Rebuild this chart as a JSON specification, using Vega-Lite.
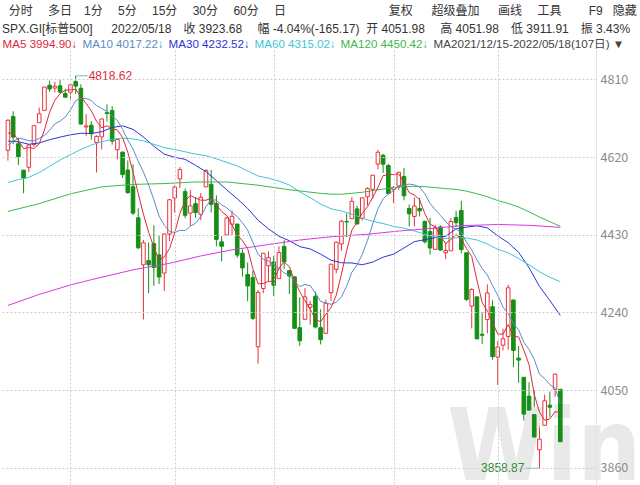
{
  "$schema": "https://vega.github.io/schema/vega-lite/v6.json",
  "width": 596,
  "height": 437,
  "padding": {"top": 5, "left": 0, "right": 0, "bottom": 0},
  "background": "white",
  "config": {
    "view": {"stroke": null},
    "font": "Liberation Sans, Noto Sans CJK SC",
    "legend": {
      "orient": "top",
      "direction": "horizontal",
      "title": null,
      "symbolSize": 0,
      "symbolStrokeWidth": 0,
      "symbolOpacity": 0,
      "labelOffset": -9,
      "columnPadding": 2,
      "labelFontSize": 11.6,
      "labelFont": "Liberation Sans, Noto Sans CJK SC",
      "labelLimit": 400,
      "padding": 0,
      "offset": -1
    }
  },
  "title": {
    "text": "\u200b\u00a0\u00a0分时\u3000\u00a0多日\u30001分\u3000\u00a05分\u3000\u00a015分\u3000\u00a030分\u3000\u00a060分\u3000\u00a0日\u3000\u3000\u3000\u3000\u3000\u3000\u3000\u3000\u00a0\u00a0复权\u3000\u00a0\u00a0超级叠加\u3000\u00a0\u00a0画线\u3000\u00a0工具\u3000\u3000\u00a0F9\u00a0\u00a0\u00a0隐藏",
    "subtitle": "SPX.GI[标普500]\u3000\u00a0\u00a02022/05/18\u3000收\u00a03923.68\u3000\u00a0幅\u00a0-4.04%(-165.17)\u00a0\u00a0开\u00a04051.98\u3000\u00a0高\u00a04051.98\u3000低\u00a03911.91\u3000振\u00a03.43%",
    "anchor": "start",
    "frame": "group",
    "dx": 2,
    "font": "Liberation Sans, Noto Sans CJK SC",
    "fontSize": 12,
    "fontWeight": "normal",
    "color": "#333333",
    "subtitleFontSize": 12,
    "subtitleColor": "#333333",
    "subtitleFont": "Liberation Sans, Noto Sans CJK SC",
    "subtitlePadding": 6,
    "offset": 3
  },
  "datasets": {
    "k": [
      {"i":0,"date":"2021-12-15","o":4636.46,"h":4712.60,"l":4611.22,"c":4709.85,"MA5":4678.4,"MA10":4648.7},
      {"i":1,"date":"2021-12-16","o":4719.13,"h":4731.99,"l":4651.89,"c":4668.67,"MA5":4678.8,"MA10":4657.9},
      {"i":2,"date":"2021-12-17","o":4652.50,"h":4666.70,"l":4600.22,"c":4620.64,"MA5":4660.6,"MA10":4666.2},
      {"i":3,"date":"2021-12-20","o":4587.90,"h":4587.90,"l":4531.10,"c":4568.02,"MA5":4640.4,"MA10":4663.8},
      {"i":4,"date":"2021-12-21","o":4594.96,"h":4651.14,"l":4583.16,"c":4649.23,"MA5":4643.4,"MA10":4660.0},
      {"i":5,"date":"2021-12-22","o":4650.36,"h":4697.67,"l":4645.53,"c":4696.56,"MA5":4640.8,"MA10":4659.6},
      {"i":6,"date":"2021-12-23","o":4703.96,"h":4740.74,"l":4703.96,"c":4725.79,"MA5":4652.2,"MA10":4665.5},
      {"i":7,"date":"2021-12-27","o":4733.99,"h":4791.49,"l":4733.99,"c":4791.19,"MA5":4686.2,"MA10":4673.4},
      {"i":8,"date":"2021-12-28","o":4795.49,"h":4807.02,"l":4780.04,"c":4786.35,"MA5":4729.8,"MA10":4685.1},
      {"i":9,"date":"2021-12-29","o":4788.64,"h":4804.06,"l":4778.08,"c":4793.06,"MA5":4758.6,"MA10":4701.0},
      {"i":10,"date":"2021-12-30","o":4794.23,"h":4808.93,"l":4775.33,"c":4778.73,"MA5":4775.0,"MA10":4707.9},
      {"i":11,"date":"2021-12-31","o":4775.21,"h":4786.83,"l":4765.75,"c":4766.18,"MA5":4783.0,"MA10":4717.6},
      {"i":12,"date":"2022-01-03","o":4778.14,"h":4796.64,"l":4758.17,"c":4796.56,"MA5":4784.2,"MA10":4735.2},
      {"i":13,"date":"2022-01-04","o":4804.51,"h":4818.62,"l":4774.27,"c":4793.54,"MA5":4785.8,"MA10":4757.8},
      {"i":14,"date":"2022-01-05","o":4787.99,"h":4797.70,"l":4699.44,"c":4700.58,"MA5":4767.4,"MA10":4763.0},
      {"i":15,"date":"2022-01-06","o":4693.39,"h":4725.01,"l":4671.26,"c":4696.05,"MA5":4750.8,"MA10":4762.9},
      {"i":16,"date":"2022-01-07","o":4697.66,"h":4707.95,"l":4662.74,"c":4677.03,"MA5":4733.0,"MA10":4758.0},
      {"i":17,"date":"2022-01-10","o":4655.34,"h":4673.02,"l":4582.24,"c":4670.29,"MA5":4707.6,"MA10":4745.9},
      {"i":18,"date":"2022-01-11","o":4669.14,"h":4714.13,"l":4638.27,"c":4713.07,"MA5":4691.4,"MA10":4738.6},
      {"i":19,"date":"2022-01-12","o":4728.59,"h":4748.83,"l":4706.71,"c":4726.35,"MA5":4696.4,"MA10":4731.9},
      {"i":20,"date":"2022-01-13","o":4733.56,"h":4744.13,"l":4650.29,"c":4659.03,"MA5":4689.0,"MA10":4719.9},
      {"i":21,"date":"2022-01-14","o":4637.99,"h":4665.13,"l":4614.75,"c":4662.85,"MA5":4686.2,"MA10":4709.6},
      {"i":22,"date":"2022-01-18","o":4632.24,"h":4632.24,"l":4568.70,"c":4577.11,"MA5":4667.6,"MA10":4687.6},
      {"i":23,"date":"2022-01-19","o":4588.03,"h":4611.55,"l":4530.20,"c":4532.76,"MA5":4631.6,"MA10":4661.5},
      {"i":24,"date":"2022-01-20","o":4547.35,"h":4602.11,"l":4477.95,"c":4482.73,"MA5":4583.0,"MA10":4639.7},
      {"i":25,"date":"2022-01-21","o":4471.38,"h":4494.52,"l":4395.34,"c":4397.94,"MA5":4530.8,"MA10":4609.9},
      {"i":26,"date":"2022-01-24","o":4356.32,"h":4417.35,"l":4222.62,"c":4410.13,"MA5":4480.2,"MA10":4583.2},
      {"i":27,"date":"2022-01-25","o":4366.64,"h":4411.01,"l":4287.11,"c":4356.45,"MA5":4436.0,"MA10":4551.8},
      {"i":28,"date":"2022-01-26","o":4408.43,"h":4453.23,"l":4304.80,"c":4349.93,"MA5":4399.4,"MA10":4515.5},
      {"i":29,"date":"2022-01-27","o":4380.58,"h":4428.74,"l":4309.50,"c":4326.51,"MA5":4368.2,"MA10":4475.6},
      {"i":30,"date":"2022-01-28","o":4336.19,"h":4432.72,"l":4292.46,"c":4431.85,"MA5":4375.0,"MA10":4452.9},
      {"i":31,"date":"2022-01-31","o":4431.79,"h":4516.89,"l":4414.02,"c":4515.55,"MA5":4396.2,"MA10":4438.2},
      {"i":32,"date":"2022-02-01","o":4519.57,"h":4550.49,"l":4483.53,"c":4546.54,"MA5":4434.4,"MA10":4435.2},
      {"i":33,"date":"2022-02-02","o":4566.39,"h":4595.31,"l":4544.32,"c":4589.38,"MA5":4482.2,"MA10":4440.8},
      {"i":34,"date":"2022-02-03","o":4535.41,"h":4542.88,"l":4470.39,"c":4477.44,"MA5":4512.2,"MA10":4440.2},
      {"i":35,"date":"2022-02-04","o":4482.79,"h":4539.66,"l":4451.50,"c":4500.53,"MA5":4526.0,"MA10":4450.5},
      {"i":36,"date":"2022-02-07","o":4505.75,"h":4521.86,"l":4471.47,"c":4483.87,"MA5":4519.6,"MA10":4457.9},
      {"i":37,"date":"2022-02-08","o":4480.02,"h":4531.32,"l":4465.40,"c":4521.54,"MA5":4514.6,"MA10":4474.5},
      {"i":38,"date":"2022-02-09","o":4547.00,"h":4590.03,"l":4547.00,"c":4587.18,"MA5":4514.2,"MA10":4498.2},
      {"i":39,"date":"2022-02-10","o":4553.24,"h":4588.92,"l":4484.31,"c":4504.08,"MA5":4519.6,"MA10":4515.9},
      {"i":40,"date":"2022-02-11","o":4506.27,"h":4526.33,"l":4401.41,"c":4418.64,"MA5":4503.2,"MA10":4514.6},
      {"i":41,"date":"2022-02-14","o":4412.61,"h":4426.22,"l":4364.84,"c":4401.67,"MA5":4486.8,"MA10":4503.2},
      {"i":42,"date":"2022-02-15","o":4429.28,"h":4472.77,"l":4429.28,"c":4471.07,"MA5":4476.6,"MA10":4495.6},
      {"i":43,"date":"2022-02-16","o":4455.75,"h":4489.55,"l":4429.68,"c":4475.01,"MA5":4454.2,"MA10":4484.2},
      {"i":44,"date":"2022-02-17","o":4456.06,"h":4456.06,"l":4373.81,"c":4380.26,"MA5":4429.4,"MA10":4474.5},
      {"i":45,"date":"2022-02-18","o":4384.57,"h":4394.60,"l":4327.22,"c":4348.87,"MA5":4415.4,"MA10":4459.3},
      {"i":46,"date":"2022-02-22","o":4332.74,"h":4362.12,"l":4267.11,"c":4304.76,"MA5":4396.0,"MA10":4441.4},
      {"i":47,"date":"2022-02-23","o":4324.93,"h":4341.51,"l":4221.51,"c":4225.50,"MA5":4347.0,"MA10":4411.8},
      {"i":48,"date":"2022-02-24","o":4155.77,"h":4294.73,"l":4114.65,"c":4288.70,"MA5":4309.8,"MA10":4382.0},
      {"i":49,"date":"2022-02-25","o":4298.38,"h":4385.34,"l":4286.83,"c":4384.65,"MA5":4310.8,"MA10":4370.1},
      {"i":50,"date":"2022-02-28","o":4354.17,"h":4388.84,"l":4315.12,"c":4373.94,"MA5":4315.8,"MA10":4365.6},
      {"i":51,"date":"2022-03-01","o":4363.14,"h":4378.45,"l":4279.54,"c":4306.26,"MA5":4316.0,"MA10":4356.0},
      {"i":52,"date":"2022-03-02","o":4322.56,"h":4401.48,"l":4322.56,"c":4386.54,"MA5":4348.2,"MA10":4347.6},
      {"i":53,"date":"2022-03-03","o":4401.31,"h":4416.78,"l":4345.56,"c":4363.49,"MA5":4363.0,"MA10":4336.4},
      {"i":54,"date":"2022-03-04","o":4342.12,"h":4342.12,"l":4284.98,"c":4328.87,"MA5":4351.8,"MA10":4331.3},
      {"i":55,"date":"2022-03-07","o":4327.01,"h":4327.01,"l":4199.85,"c":4201.09,"MA5":4317.2,"MA10":4316.5},
      {"i":56,"date":"2022-03-08","o":4202.66,"h":4276.94,"l":4157.87,"c":4170.70,"MA5":4290.2,"MA10":4303.1},
      {"i":57,"date":"2022-03-09","o":4223.10,"h":4299.40,"l":4223.10,"c":4277.88,"MA5":4268.4,"MA10":4308.3},
      {"i":58,"date":"2022-03-10","o":4252.55,"h":4268.28,"l":4209.80,"c":4259.52,"MA5":4247.8,"MA10":4305.4},
      {"i":59,"date":"2022-03-11","o":4279.50,"h":4291.01,"l":4200.49,"c":4204.31,"MA5":4222.8,"MA10":4287.3},
      {"i":60,"date":"2022-03-14","o":4202.75,"h":4247.57,"l":4161.72,"c":4173.11,"MA5":4217.2,"MA10":4267.2},
      {"i":61,"date":"2022-03-15","o":4188.82,"h":4271.05,"l":4187.90,"c":4262.45,"MA5":4235.4,"MA10":4262.8},
      {"i":62,"date":"2022-03-16","o":4288.14,"h":4357.86,"l":4267.92,"c":4357.86,"MA5":4251.4,"MA10":4259.9},
      {"i":63,"date":"2022-03-17","o":4345.11,"h":4412.67,"l":4335.65,"c":4411.67,"MA5":4281.8,"MA10":4264.8},
      {"i":64,"date":"2022-03-18","o":4407.34,"h":4465.40,"l":4390.57,"c":4463.12,"MA5":4333.6,"MA10":4278.2},
      {"i":65,"date":"2022-03-21","o":4462.40,"h":4481.75,"l":4424.30,"c":4461.18,"MA5":4391.2,"MA10":4304.2},
      {"i":66,"date":"2022-03-22","o":4469.10,"h":4522.00,"l":4469.10,"c":4511.61,"MA5":4441.2,"MA10":4338.3},
      {"i":67,"date":"2022-03-23","o":4493.10,"h":4501.07,"l":4455.81,"c":4456.24,"MA5":4460.8,"MA10":4356.1},
      {"i":68,"date":"2022-03-24","o":4469.98,"h":4520.58,"l":4465.17,"c":4520.16,"MA5":4482.4,"MA10":4382.1},
      {"i":69,"date":"2022-03-25","o":4522.66,"h":4546.03,"l":4501.07,"c":4543.06,"MA5":4498.4,"MA10":4416.0},
      {"i":70,"date":"2022-03-28","o":4541.09,"h":4575.65,"l":4517.69,"c":4575.52,"MA5":4521.4,"MA10":4456.3},
      {"i":71,"date":"2022-03-29","o":4602.86,"h":4637.30,"l":4589.66,"c":4631.60,"MA5":4545.4,"MA10":4493.3},
      {"i":72,"date":"2022-03-30","o":4624.20,"h":4627.77,"l":4581.32,"c":4602.45,"MA5":4574.6,"MA10":4517.7},
      {"i":73,"date":"2022-03-31","o":4599.02,"h":4603.07,"l":4530.41,"c":4530.41,"MA5":4576.6,"MA10":4529.5},
      {"i":74,"date":"2022-04-01","o":4540.32,"h":4548.70,"l":4507.57,"c":4545.86,"MA5":4577.2,"MA10":4537.8},
      {"i":75,"date":"2022-04-04","o":4547.97,"h":4583.50,"l":4539.21,"c":4582.64,"MA5":4578.6,"MA10":4550.0},
      {"i":76,"date":"2022-04-05","o":4572.45,"h":4593.45,"l":4514.17,"c":4525.12,"MA5":4557.2,"MA10":4551.3},
      {"i":77,"date":"2022-04-06","o":4494.17,"h":4503.94,"l":4450.04,"c":4481.15,"MA5":4533.0,"MA10":4553.8},
      {"i":78,"date":"2022-04-07","o":4474.65,"h":4521.16,"l":4450.30,"c":4500.21,"MA5":4527.0,"MA10":4551.8},
      {"i":79,"date":"2022-04-08","o":4494.15,"h":4520.41,"l":4474.60,"c":4488.28,"MA5":4515.4,"MA10":4546.3},
      {"i":80,"date":"2022-04-11","o":4462.64,"h":4464.35,"l":4408.38,"c":4412.53,"MA5":4481.4,"MA10":4530.0},
      {"i":81,"date":"2022-04-12","o":4437.59,"h":4471.00,"l":4381.34,"c":4397.45,"MA5":4455.8,"MA10":4506.5},
      {"i":82,"date":"2022-04-13","o":4394.30,"h":4453.92,"l":4392.70,"c":4446.59,"MA5":4449.0,"MA10":4491.0},
      {"i":83,"date":"2022-04-14","o":4449.12,"h":4452.77,"l":4390.63,"c":4392.59,"MA5":4427.6,"MA10":4477.3},
      {"i":84,"date":"2022-04-18","o":4385.63,"h":4410.31,"l":4370.30,"c":4391.69,"MA5":4408.4,"MA10":4461.9},
      {"i":85,"date":"2022-04-19","o":4390.63,"h":4471.03,"l":4390.63,"c":4462.21,"MA5":4418.2,"MA10":4449.8},
      {"i":86,"date":"2022-04-20","o":4472.26,"h":4488.29,"l":4448.76,"c":4459.45,"MA5":4430.6,"MA10":4443.2},
      {"i":87,"date":"2022-04-21","o":4489.17,"h":4512.94,"l":4384.47,"c":4393.66,"MA5":4420.0,"MA10":4434.5},
      {"i":88,"date":"2022-04-22","o":4385.83,"h":4385.83,"l":4267.62,"c":4271.78,"MA5":4395.8,"MA10":4411.7},
      {"i":89,"date":"2022-04-25","o":4255.34,"h":4299.02,"l":4200.82,"c":4296.12,"MA5":4376.6,"MA10":4392.5},
      {"i":90,"date":"2022-04-26","o":4278.14,"h":4278.14,"l":4175.04,"c":4175.20,"MA5":4319.2,"MA10":4368.7},
      {"i":91,"date":"2022-04-27","o":4186.52,"h":4240.71,"l":4162.90,"c":4183.96,"MA5":4264.2,"MA10":4347.4},
      {"i":92,"date":"2022-04-28","o":4222.58,"h":4308.45,"l":4188.63,"c":4287.50,"MA5":4243.0,"MA10":4331.5},
      {"i":93,"date":"2022-04-29","o":4253.75,"h":4269.68,"l":4124.28,"c":4131.93,"MA5":4215.0,"MA10":4305.4},
      {"i":94,"date":"2022-05-02","o":4130.61,"h":4169.81,"l":4062.51,"c":4155.38,"MA5":4186.8,"MA10":4281.7},
      {"i":95,"date":"2022-05-03","o":4159.78,"h":4200.10,"l":4147.08,"c":4175.48,"MA5":4186.8,"MA10":4253.0},
      {"i":96,"date":"2022-05-04","o":4181.18,"h":4307.66,"l":4148.91,"c":4300.17,"MA5":4210.0,"MA10":4237.1},
      {"i":97,"date":"2022-05-05","o":4270.43,"h":4270.43,"l":4106.01,"c":4146.87,"MA5":4181.8,"MA10":4212.4},
      {"i":98,"date":"2022-05-06","o":4128.17,"h":4157.69,"l":4067.91,"c":4123.34,"MA5":4180.0,"MA10":4197.5},
      {"i":99,"date":"2022-05-09","o":4081.27,"h":4081.27,"l":3975.48,"c":3991.24,"MA5":4147.2,"MA10":4167.0},
      {"i":100,"date":"2022-05-10","o":4035.18,"h":4068.82,"l":3958.17,"c":4001.05,"MA5":4112.4,"MA10":4149.6},
      {"i":101,"date":"2022-05-11","o":3990.08,"h":4049.09,"l":3928.82,"c":3935.18,"MA5":4039.4,"MA10":4124.7},
      {"i":102,"date":"2022-05-12","o":3903.95,"h":3964.80,"l":3858.87,"c":3930.08,"MA5":3996.0,"MA10":4088.9},
      {"i":103,"date":"2022-05-13","o":3963.90,"h":4038.88,"l":3963.90,"c":4023.89,"MA5":3976.2,"MA10":4078.1},
      {"i":104,"date":"2022-05-16","o":4013.02,"h":4046.46,"l":3983.99,"c":4008.01,"MA5":3979.6,"MA10":4063.4},
      {"i":105,"date":"2022-05-17","o":4052.00,"h":4090.72,"l":4033.93,"c":4088.85,"MA5":3997.2,"MA10":4054.8},
      {"i":106,"date":"2022-05-18","o":4051.98,"h":4051.98,"l":3911.91,"c":3923.68,"MA5":3994.9,"MA10":4017.2}
    ],
    "ma": [
      {"ma":"MA30","i":0,"v":4659.0},{"ma":"MA30","i":2,"v":4657.3},{"ma":"MA30","i":4,"v":4651.2},{"ma":"MA30","i":6,"v":4654.3},{"ma":"MA30","i":8,"v":4662.4},{"ma":"MA30","i":10,"v":4668.7},{"ma":"MA30","i":12,"v":4674.3},{"ma":"MA30","i":14,"v":4678.1},{"ma":"MA30","i":16,"v":4677.5},{"ma":"MA30","i":18,"v":4681.9},{"ma":"MA30","i":20,"v":4692.1},{"ma":"MA30","i":22,"v":4696.3},{"ma":"MA30","i":24,"v":4687.6},{"ma":"MA30","i":26,"v":4668.9},{"ma":"MA30","i":28,"v":4646.4},{"ma":"MA30","i":30,"v":4626.9},{"ma":"MA30","i":32,"v":4619.3},{"ma":"MA30","i":34,"v":4614.3},{"ma":"MA30","i":36,"v":4599.7},{"ma":"MA30","i":38,"v":4584.1},{"ma":"MA30","i":40,"v":4562.5},{"ma":"MA30","i":42,"v":4539.5},{"ma":"MA30","i":44,"v":4518.1},{"ma":"MA30","i":46,"v":4494.2},{"ma":"MA30","i":48,"v":4465.2},{"ma":"MA30","i":50,"v":4444.4},{"ma":"MA30","i":52,"v":4426.1},{"ma":"MA30","i":54,"v":4415.3},{"ma":"MA30","i":56,"v":4400.8},{"ma":"MA30","i":58,"v":4395.2},{"ma":"MA30","i":60,"v":4382.5},{"ma":"MA30","i":62,"v":4367.7},{"ma":"MA30","i":64,"v":4361.3},{"ma":"MA30","i":66,"v":4360.9},{"ma":"MA30","i":68,"v":4356.5},{"ma":"MA30","i":70,"v":4363.0},{"ma":"MA30","i":72,"v":4375.1},{"ma":"MA30","i":74,"v":4382.4},{"ma":"MA30","i":76,"v":4397.6},{"ma":"MA30","i":78,"v":4413.1},{"ma":"MA30","i":80,"v":4417.8},{"ma":"MA30","i":82,"v":4422.9},{"ma":"MA30","i":84,"v":4426.0},{"ma":"MA30","i":86,"v":4444.3},{"ma":"MA30","i":88,"v":4448.5},{"ma":"MA30","i":90,"v":4451.7},{"ma":"MA30","i":92,"v":4446.7},{"ma":"MA30","i":94,"v":4427.1},{"ma":"MA30","i":96,"v":4410.5},{"ma":"MA30","i":98,"v":4387.0},{"ma":"MA30","i":100,"v":4349.4},{"ma":"MA30","i":102,"v":4303.8},{"ma":"MA30","i":104,"v":4269.0},{"ma":"MA30","i":106,"v":4232.5},
      {"ma":"MA60","i":0,"v":4557.5},{"ma":"MA60","i":2,"v":4564.9},{"ma":"MA60","i":4,"v":4570.2},{"ma":"MA60","i":6,"v":4582.0},{"ma":"MA60","i":8,"v":4597.2},{"ma":"MA60","i":10,"v":4612.7},{"ma":"MA60","i":12,"v":4626.0},{"ma":"MA60","i":14,"v":4638.4},{"ma":"MA60","i":16,"v":4649.4},{"ma":"MA60","i":18,"v":4657.3},{"ma":"MA60","i":20,"v":4663.6},{"ma":"MA60","i":22,"v":4666.1},{"ma":"MA60","i":24,"v":4664.5},{"ma":"MA60","i":26,"v":4659.2},{"ma":"MA60","i":28,"v":4651.0},{"ma":"MA60","i":30,"v":4643.0},{"ma":"MA60","i":32,"v":4638.3},{"ma":"MA60","i":34,"v":4632.8},{"ma":"MA60","i":36,"v":4627.0},{"ma":"MA60","i":38,"v":4623.3},{"ma":"MA60","i":40,"v":4615.6},{"ma":"MA60","i":42,"v":4606.9},{"ma":"MA60","i":44,"v":4598.1},{"ma":"MA60","i":46,"v":4585.9},{"ma":"MA60","i":48,"v":4573.6},{"ma":"MA60","i":50,"v":4568.3},{"ma":"MA60","i":52,"v":4561.2},{"ma":"MA60","i":54,"v":4551.5},{"ma":"MA60","i":56,"v":4534.9},{"ma":"MA60","i":58,"v":4520.8},{"ma":"MA60","i":60,"v":4504.7},{"ma":"MA60","i":62,"v":4493.5},{"ma":"MA60","i":64,"v":4487.8},{"ma":"MA60","i":66,"v":4480.3},{"ma":"MA60","i":68,"v":4470.3},{"ma":"MA60","i":70,"v":4462.8},{"ma":"MA60","i":72,"v":4457.3},{"ma":"MA60","i":74,"v":4450.3},{"ma":"MA60","i":76,"v":4445.9},{"ma":"MA60","i":78,"v":4439.2},{"ma":"MA60","i":80,"v":4431.1},{"ma":"MA60","i":82,"v":4424.5},{"ma":"MA60","i":84,"v":4420.7},{"ma":"MA60","i":86,"v":4422.6},{"ma":"MA60","i":88,"v":4421.9},{"ma":"MA60","i":90,"v":4417.1},{"ma":"MA60","i":92,"v":4407.2},{"ma":"MA60","i":94,"v":4394.2},{"ma":"MA60","i":96,"v":4385.7},{"ma":"MA60","i":98,"v":4371.8},{"ma":"MA60","i":100,"v":4356.2},{"ma":"MA60","i":102,"v":4339.5},{"ma":"MA60","i":104,"v":4325.7},{"ma":"MA60","i":106,"v":4315.1},
      {"ma":"MA120","i":0,"v":4487},{"ma":"MA120","i":6,"v":4506},{"ma":"MA120","i":12,"v":4530},{"ma":"MA120","i":18,"v":4547},{"ma":"MA120","i":24,"v":4553},{"ma":"MA120","i":30,"v":4555},{"ma":"MA120","i":36,"v":4559},{"ma":"MA120","i":42,"v":4559},{"ma":"MA120","i":48,"v":4551},{"ma":"MA120","i":54,"v":4540},{"ma":"MA120","i":60,"v":4531.1},{"ma":"MA120","i":62,"v":4529.2},{"ma":"MA120","i":64,"v":4529.0},{"ma":"MA120","i":66,"v":4531.2},{"ma":"MA120","i":68,"v":4533.8},{"ma":"MA120","i":70,"v":4537.8},{"ma":"MA120","i":72,"v":4541.7},{"ma":"MA120","i":74,"v":4544.4},{"ma":"MA120","i":76,"v":4547.7},{"ma":"MA120","i":78,"v":4548.3},{"ma":"MA120","i":80,"v":4547.4},{"ma":"MA120","i":82,"v":4545.3},{"ma":"MA120","i":84,"v":4542.6},{"ma":"MA120","i":86,"v":4540.9},{"ma":"MA120","i":88,"v":4536.5},{"ma":"MA120","i":90,"v":4530.1},{"ma":"MA120","i":92,"v":4522.8},{"ma":"MA120","i":94,"v":4513.5},{"ma":"MA120","i":96,"v":4506.4},{"ma":"MA120","i":98,"v":4497.6},{"ma":"MA120","i":100,"v":4485.9},{"ma":"MA120","i":102,"v":4473.2},{"ma":"MA120","i":104,"v":4461.9},{"ma":"MA120","i":106,"v":4450.5},
      {"ma":"MA250","i":0,"v":4257},{"ma":"MA250","i":6,"v":4284},{"ma":"MA250","i":12,"v":4307},{"ma":"MA250","i":16,"v":4320},{"ma":"MA250","i":24,"v":4344},{"ma":"MA250","i":31,"v":4360},{"ma":"MA250","i":37,"v":4378},{"ma":"MA250","i":43,"v":4393},{"ma":"MA250","i":50,"v":4406},{"ma":"MA250","i":56,"v":4417},{"ma":"MA250","i":62,"v":4425},{"ma":"MA250","i":69,"v":4431},{"ma":"MA250","i":75,"v":4439},{"ma":"MA250","i":81,"v":4445},{"ma":"MA250","i":87,"v":4452},{"ma":"MA250","i":94,"v":4455},{"ma":"MA250","i":100,"v":4453},{"ma":"MA250","i":106,"v":4448}
    ],
    "ext": [
      {"kind":"high","i":13,"v":4818.62,"label":"4818.62"},
      {"kind":"low","i":102,"v":3858.87,"label":"3858.87"}
    ],
    "wm": [
      {"label":"Wind"}
    ]
  },
  "layer": [
    {
      "data": {"name": "k"},
      "mark": {"type": "rule", "strokeWidth": 1},
      "encoding": {
        "x": {
          "field": "i",
          "type": "quantitative",
          "scale": {"domain": [-0.566, 111.89], "nice": false, "zero": false},
          "axis": {
            "orient": "bottom",
            "values": [12, 32, 51, 74, 94],
            "labels": false,
            "ticks": false,
            "domain": false,
            "grid": true,
            "gridDash": [2, 2],
            "gridColor": "#cccccc",
            "title": null,
            "zindex": 1
          }
        },
        "y": {
          "field": "l",
          "type": "quantitative",
          "scale": {"domain": [3813, 4881.7], "nice": false, "zero": false},
          "axis": {
            "orient": "right",
            "values": [3860, 4050, 4240, 4430, 4620, 4810],
            "format": "d",
            "title": null,
            "grid": true,
            "gridDash": [2, 2],
            "gridColor": "#cccccc",
            "ticks": false,
            "domain": true,
            "domainColor": "#e3e3e3",
            "labelColor": "#8c8c8c",
            "labelFontSize": 12.5,
            "labelFont": "Noto Sans CJK SC",
            "labelPadding": 4,
            "zindex": 1
          }
        },
        "y2": {"field": "h"},
        "stroke": {"condition": {"test": "datum.c > datum.o", "value": "#e8333d"}, "value": "#168f16"}
      }
    },
    {
      "data": {"name": "wm"},
      "mark": {"type": "text", "font": "Liberation Sans Narrow, DejaVu Sans Condensed, Liberation Sans", "fontSize": 100, "fontWeight": "bold", "align": "left", "baseline": "alphabetic", "clip": false, "color": "#e9e9e9"},
      "encoding": {
        "x": {"datum": 84.3, "type": "quantitative"},
        "y": {"datum": 3830, "type": "quantitative"},
        "text": {"field": "label", "type": "nominal"}
      }
    },
    {
      "data": {"name": "k"},
      "mark": {"type": "bar", "width": 3.6, "strokeWidth": 1},
      "encoding": {
        "x": {"field": "i", "type": "quantitative"},
        "y": {"field": "o", "type": "quantitative"},
        "y2": {"field": "c"},
        "fill": {"condition": {"test": "datum.c > datum.o", "value": "#ffffff"}, "value": "#168f16"},
        "stroke": {"condition": {"test": "datum.c > datum.o", "value": "#e8333d"}, "value": "#168f16"}
      }
    },
    {
      "data": {"name": "ma"},
      "mark": {"type": "line", "strokeWidth": 1},
      "encoding": {
        "x": {"field": "i", "type": "quantitative"},
        "y": {"field": "v", "type": "quantitative"},
        "color": {
          "field": "ma",
          "type": "nominal",
          "scale": {
            "domain": ["MA5", "MA10", "MA30", "MA60", "MA120", "MA250"],
            "range": ["#e0283c", "#5b8cc4", "#2a35d6", "#40c6d8", "#3db84a", "#d63adf"]
          },
          "legend": {
            "labelExpr": "{'MA5':'MA5 3994.90↓','MA10':'MA10 4017.22↓','MA30':'MA30 4232.52↓','MA60':'MA60 4315.02↓','MA120':'MA120 4450.42↓','MA250':'MA2021/12/15-2022/05/18(107日) ▼'}[datum.value]",
            "encode": {"labels": {"update": {"fill": {"signal": "datum.value === 'MA250' ? '#444444' : scale('color', datum.value)"}}}}
          }
        }
      }
    },
    {
      "data": {"name": "k"},
      "transform": [{"fold": ["MA10", "MA5"], "as": ["ma", "v"]}],
      "mark": {"type": "line", "strokeWidth": 1},
      "encoding": {
        "x": {"field": "i", "type": "quantitative"},
        "y": {"field": "v", "type": "quantitative"},
        "color": {"field": "ma", "type": "nominal"}
      }
    },
    {
      "data": {"name": "ext"},
      "transform": [{"filter": "datum.kind === 'high'"}],
      "layer": [
        {
          "mark": {"type": "tick", "orient": "horizontal", "size": 12, "thickness": 1, "color": "#4a90b8", "xOffset": 6},
          "encoding": {"x": {"field": "i", "type": "quantitative"}, "y": {"field": "v", "type": "quantitative"}}
        },
        {
          "mark": {"type": "text", "align": "left", "dx": 13, "fontSize": 12, "color": "#e0283c", "font": "Liberation Sans"},
          "encoding": {"x": {"field": "i", "type": "quantitative"}, "y": {"field": "v", "type": "quantitative"}, "text": {"field": "label"}}
        }
      ]
    },
    {
      "data": {"name": "ext"},
      "transform": [{"filter": "datum.kind === 'low'"}],
      "layer": [
        {
          "mark": {"type": "tick", "orient": "horizontal", "size": 14, "thickness": 1, "color": "#4a90b8", "xOffset": -7},
          "encoding": {"x": {"field": "i", "type": "quantitative"}, "y": {"field": "v", "type": "quantitative"}}
        },
        {
          "mark": {"type": "text", "align": "right", "dx": -15, "fontSize": 12, "color": "#2e8b2e", "font": "Liberation Sans"},
          "encoding": {"x": {"field": "i", "type": "quantitative"}, "y": {"field": "v", "type": "quantitative"}, "text": {"field": "label"}}
        }
      ]
    }
  ]
}
